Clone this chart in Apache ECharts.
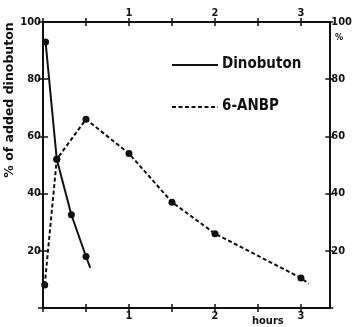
<!DOCTYPE html>
<html>
<head>
<meta charset="utf-8">
<script src="https://cdn.jsdelivr.net/npm/echarts@6/dist/echarts.min.js"></script>
<style>
  html, body { margin: 0; padding: 0; background: #fff; }
  #chart { width: 355px; height: 327px; }
</style>
</head>
<body>
<div id="chart"></div>
<script>
// last point of each list is where the drawn line ends (no marker)
const dinoHours = [0.03, 0.16, 0.33, 0.5, 0.55];
const dinoValues = [93, 52, 32.6, 18, 14];
const anbpHours = [0.02, 0.16, 0.5, 1, 1.5, 2, 3, 3.09];
const anbpValues = [8, 52, 66, 54, 37, 26, 10.5, 8.5];
const seriesNames = ["Dinobuton", "6-ANBP"];
const hourTicks = [1, 2, 3];

const ink = "#111";
const font = "'DejaVu Sans Condensed', 'DejaVu Sans', sans-serif";

function points(xs, ys) {
    return xs.map((x, i) => {
        const p = { value: [x, ys[i]] };
        if (i === xs.length - 1) p.symbol = "none";
        return p;
    });
}

const hourLabel = (v) => (hourTicks.includes(v) ? String(v) : "");
const pctLabel = (v) => (v > 0 ? String(v) : "");

function xAx(position, inside, showLabel) {
    return {
        type: "value", position, min: 0, max: 3.33, interval: 0.5,
        axisLine: { show: true, onZero: false, lineStyle: { color: ink, width: 2 } },
        axisTick: { show: true, inside, length: 4, lineStyle: { color: ink, width: 1.5 } },
        axisLabel: { show: showLabel, formatter: hourLabel, color: ink, fontSize: 11,
            fontWeight: "bold", fontFamily: font, margin: 3, showMaxLabel: false },
        splitLine: { show: false },
    };
}

function yAx(position, inside, showLabel, len) {
    return {
        type: "value", position, min: 0, max: 100, interval: 20,
        axisLine: { show: true, onZero: false, lineStyle: { color: ink, width: 2 } },
        axisTick: { show: true, inside, length: len, lineStyle: { color: ink, width: 1.5 } },
        axisLabel: { show: showLabel, formatter: pctLabel, color: ink, fontSize: 11,
            fontWeight: "bold", fontFamily: font, margin: 2 },
        splitLine: { show: false },
    };
}

const chart = echarts.init(document.getElementById("chart"), null, { renderer: "canvas" });

chart.setOption({
    backgroundColor: "#fff",
    animation: false,
    grid: { left: 43, right: 23, top: 22, bottom: 19, containLabel: false },
    xAxis: [xAx("bottom", false, true), xAx("bottom", true, false),
            xAx("top", false, true), xAx("top", true, false)],
    yAxis: [yAx("left", false, true, 5), yAx("left", true, false, 5),
            yAx("right", false, true, 4), yAx("right", true, false, 4)],
    series: [
        {
            name: seriesNames[0], type: "line", xAxisIndex: 0, yAxisIndex: 0,
            data: points(dinoHours, dinoValues),
            symbol: "circle", symbolSize: 7,
            lineStyle: { color: ink, width: 2 },
            itemStyle: { color: ink },
        },
        {
            name: seriesNames[1], type: "line", xAxisIndex: 0, yAxisIndex: 0,
            data: points(anbpHours, anbpValues),
            symbol: "circle", symbolSize: 7,
            lineStyle: { color: ink, width: 2, type: [4, 2.5] },
            itemStyle: { color: ink },
        },
    ],
    graphic: [
        { type: "line", shape: { x1: 172, y1: 65, x2: 218, y2: 65 },
          style: { stroke: ink, lineWidth: 2 } },
        { type: "text", left: 222, top: 57,
          style: { text: seriesNames[0], fill: ink, font: "bold 15px " + font } },
        { type: "line", shape: { x1: 172, y1: 107, x2: 218, y2: 107 },
          style: { stroke: ink, lineWidth: 2, lineDash: [4, 2.5] } },
        { type: "text", left: 222, top: 99,
          style: { text: seriesNames[1], fill: ink, font: "bold 15px " + font } },
        { type: "text", x: 10, y: 100, rotation: Math.PI / 2,
          style: { text: "% of added dinobuton", fill: ink,
              font: "bold 12.5px 'DejaVu Sans', sans-serif",
              textAlign: "center", textVerticalAlign: "middle" } },
        { type: "text", x: 335, y: 33,
          style: { text: "%", fill: ink, font: "bold 9px " + font } },
        { type: "text", x: 252, y: 316,
          style: { text: "hours", fill: ink, font: "bold 11px " + font } },
    ],
});

window.addEventListener("resize", () => chart.resize());
</script>
</body>
</html>
